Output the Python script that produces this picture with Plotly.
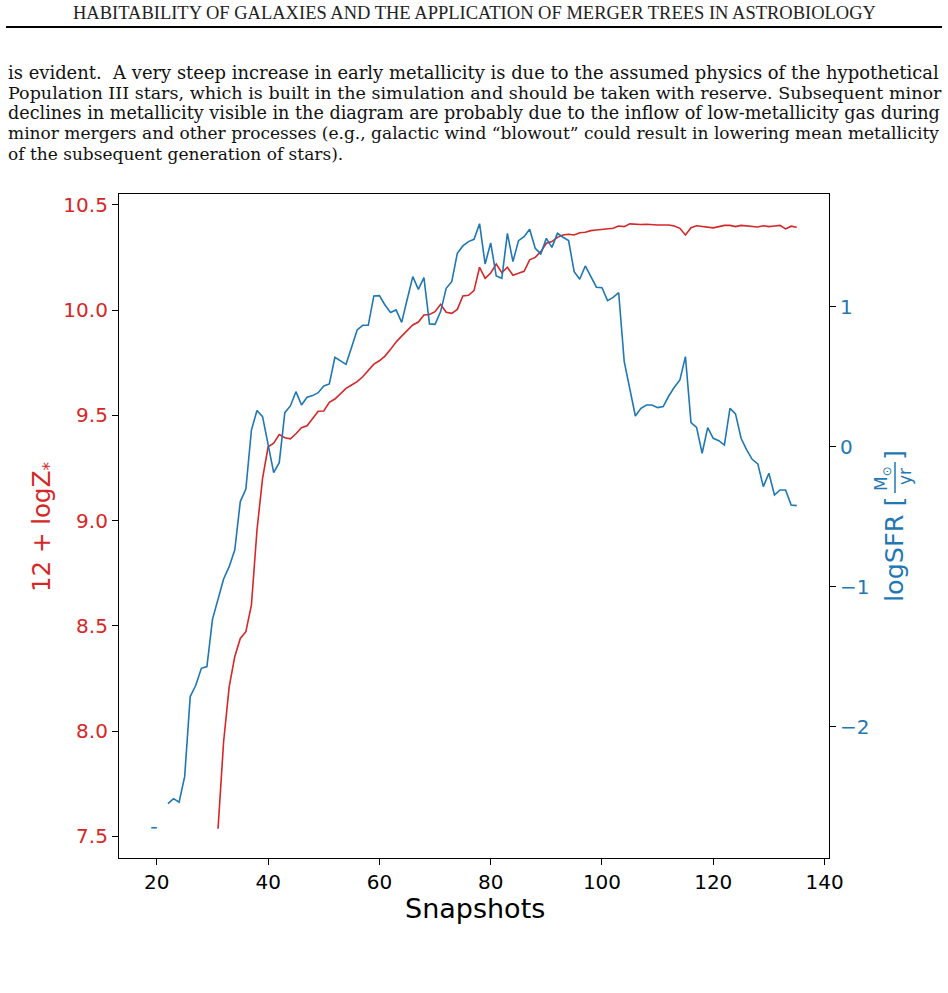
import plotly.graph_objects as go

W, H = 948, 993
L, R, T, B = 119, 829, 194, 858  # plot area in page pixels

snapshots = list(range(19, 136))

log_sfr = [
    -2.72, -2.72, None, -2.548, -2.512, -2.538, -2.355, -1.783, -1.702, -1.581,
    -1.569, -1.231, -1.081, -0.943, -0.855, -0.736, -0.39, -0.30, 0.121, 0.26,
    0.217, 0.014, -0.183, -0.112, 0.245, 0.293, 0.395, 0.30, 0.355, 0.367,
    0.388, 0.436, 0.45, 0.64, 0.617, 0.59, 0.712, 0.836, 0.869, 0.869,
    1.079, 1.081, 1.014, 0.96, 0.979, 0.89, 1.055, 1.217, 1.126, 1.21,
    0.879, 0.876, 0.967, 1.133, 1.181, 1.383, 1.436, 1.467, 1.483, 1.595,
    1.307, 1.458, 1.221, 1.205, 1.526, 1.324, 1.474, 1.502, 1.555, 1.419,
    1.379, 1.49, 1.426, 1.526, 1.498, 1.474, 1.252, 1.198, 1.293, 1.217,
    1.141, 1.138, 1.045, 1.069, 1.102, 0.609, 0.407, 0.221, 0.276, 0.30,
    0.30, 0.281, 0.288, 0.364, 0.426, 0.479, 0.645, 0.174, 0.14, -0.045,
    0.138, 0.062, 0.045, 0.014, 0.276, 0.236, 0.062, -0.021, -0.088, -0.121,
    -0.283, -0.188, -0.343, -0.307, -0.307, -0.414, -0.419,
]

metallicity = [None] * 12 + [
    7.536, 7.949, 8.21, 8.353, 8.44, 8.472, 8.599, 8.955, 9.20, 9.35,
    9.367, 9.408, 9.393, 9.388, 9.412, 9.441, 9.45, 9.484, 9.519, 9.52,
    9.561, 9.577, 9.604, 9.628, 9.644, 9.66, 9.683, 9.712, 9.743, 9.759,
    9.781, 9.813, 9.848, 9.876, 9.902, 9.929, 9.943, 9.976, 9.979, 9.992,
    10.027, 9.989, 9.984, 10.003, 10.067, 10.07, 10.092, 10.203, 10.15, 10.176,
    10.218, 10.177, 10.203, 10.165, 10.174, 10.184, 10.238, 10.25, 10.277, 10.317,
    10.325, 10.345, 10.356, 10.36, 10.356, 10.367, 10.369, 10.377, 10.38, 10.383,
    10.388, 10.388, 10.399, 10.396, 10.409, 10.407, 10.406, 10.407, 10.404, 10.404,
    10.404, 10.404, 10.399, 10.388, 10.356, 10.391, 10.40, 10.396, 10.393, 10.39,
    10.396, 10.402, 10.402, 10.396, 10.402, 10.399, 10.396, 10.394, 10.40, 10.396,
    10.399, 10.402, 10.385, 10.398, 10.393,
]

header = "HABITABILITY OF GALAXIES AND THE APPLICATION OF MERGER TREES IN ASTROBIOLOGY"
paragraph = [
    "is evident.  A very steep increase in early metallicity is due to the assumed physics of the hypothetical",
    "Population III stars, which is built in the simulation and should be taken with reserve. Subsequent minor",
    "declines in metallicity visible in the diagram are probably due to the inflow of low-metallicity gas during",
    "minor mergers and other processes (e.g., galactic wind \u201cblowout\u201d could result in lowering mean metallicity",
    "of the subsequent generation of stars).",
]
# per-line sizes so the lines fill the justified width
para_sizes = [17.95, 17.55, 17.6, 17.05, 17.0]
para_y = [73, 93, 113, 133, 154]

RED = "#d62728"
BLUE = "#1f77b4"


def px(x):
    return (x - L) / (R - L)


def py(y):
    return (B - y) / (B - T)


fig = go.Figure()
fig.add_trace(go.Scatter(x=snapshots, y=metallicity, mode="lines",
                         line=dict(color=RED, width=1.6), yaxis="y"))
fig.add_trace(go.Scatter(x=snapshots, y=log_sfr, mode="lines",
                         line=dict(color=BLUE, width=1.6), yaxis="y2"))

axis_common = dict(showline=True, linecolor="black", linewidth=1.2,
                   ticks="outside", ticklen=6, tickwidth=1.2, showgrid=False,
                   zeroline=False)

fig.update_layout(
    width=W, height=H,
    margin=dict(l=L, r=W - R, t=T, b=H - B),
    paper_bgcolor="white", plot_bgcolor="white",
    showlegend=False,
    font=dict(family="DejaVu Sans", size=20, color="black"),
    xaxis=dict(range=[13.2, 140.8], tickvals=[20, 40, 60, 80, 100, 120, 140],
               tickfont=dict(size=20, color="black"), tickcolor="black",
               mirror=True, **axis_common),
    yaxis=dict(range=[7.397, 10.551], tickvals=[7.5, 8.0, 8.5, 9.0, 9.5, 10.0, 10.5],
               tickformat=".1f", tickfont=dict(size=20, color=RED), tickcolor="black",
               **axis_common),
    yaxis2=dict(range=[-2.936, 1.807], tickvals=[-2, -1, 0, 1], overlaying="y",
                side="right", tickfont=dict(size=20, color=BLUE), tickcolor="black",
                **axis_common),
)

# page header rule
fig.add_shape(type="line", xref="paper", yref="paper", x0=px(6), x1=px(942),
              y0=py(27), y1=py(27), line=dict(color="black", width=2))

fig.add_annotation(text=header, xref="paper", yref="paper", x=px(474), y=py(13),
                   showarrow=False, xanchor="center", yanchor="middle",
                   font=dict(family="Liberation Serif", size=18.5, color="#222"))

for txt, size, yy in zip(paragraph, para_sizes, para_y):
    fig.add_annotation(text=txt, xref="paper", yref="paper", x=px(6), y=py(yy),
                       showarrow=False, xanchor="left", yanchor="middle",
                       font=dict(family="DejaVu Serif", size=size, color="#111"))

# axis titles
fig.add_annotation(text="Snapshots", xref="paper", yref="paper", x=px(475), y=py(908),
                   showarrow=False, xanchor="center", yanchor="middle",
                   font=dict(size=27, color="black"))
fig.add_annotation(text="12 + logZ<sub>*</sub>", xref="paper", yref="paper",
                   x=px(43), y=py(527), textangle=-90, showarrow=False,
                   xanchor="center", yanchor="middle", font=dict(size=24.5, color=RED))

# right title: logSFR [ M_sun / yr ] with a stacked fraction
fig.add_annotation(text="logSFR [", xref="paper", yref="paper",
                   x=px(894), y=py(604), textangle=-90, showarrow=False,
                   xanchor="center", yanchor="bottom", font=dict(size=25.5, color=BLUE))
fig.add_annotation(text="]", xref="paper", yref="paper",
                   x=px(894), y=py(448), textangle=-90, showarrow=False,
                   xanchor="center", yanchor="top", font=dict(size=25.5, color=BLUE))
fig.add_annotation(text="M<sub>\u2299</sub>", xref="paper", yref="paper",
                   x=px(882), y=py(478), textangle=-90, showarrow=False,
                   xanchor="center", yanchor="middle", font=dict(size=17, color=BLUE))
fig.add_annotation(text="yr", xref="paper", yref="paper",
                   x=px(905), y=py(477), textangle=-90, showarrow=False,
                   xanchor="center", yanchor="middle", font=dict(size=17, color=BLUE))
fig.add_shape(type="line", xref="paper", yref="paper", x0=px(895), x1=px(895),
              y0=py(462), y1=py(493), line=dict(color=BLUE, width=1.5))

# drop the default body margin so the figure lines up with the page
fig.write_html("out.html", config={"displayModeBar": False},
               post_script="document.body.style.margin='0';")
